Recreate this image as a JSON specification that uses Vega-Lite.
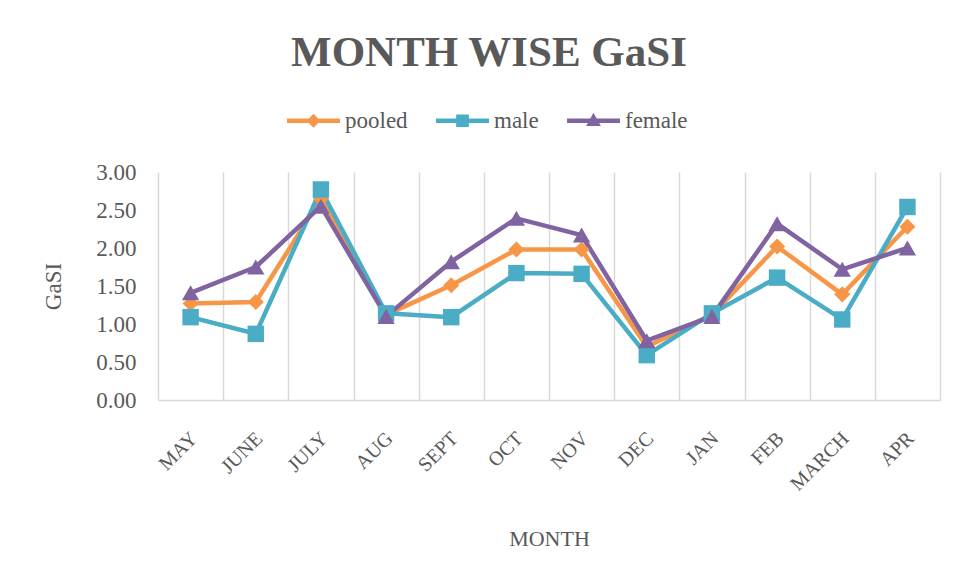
{
  "$schema": "https://vega.github.io/schema/vega-lite/v6.json",
  "autosize": {"type": "none"},
  "width": 782,
  "height": 228,
  "padding": {"left": 158, "top": 172, "right": 18, "bottom": 181},
  "background": "white",
  "title": {
    "text": "MONTH WISE GaSI",
    "anchor": "middle",
    "frame": "group",
    "dx": -60,
    "offset": 19,
    "font": "Liberation Serif",
    "fontSize": 43,
    "fontWeight": "bold",
    "color": "#595959"
  },
  "config": {
    "view": {"stroke": null},
    "font": "Liberation Serif"
  },
  "data": {
    "values": [
      {"month": "MAY", "series": "pooled", "value": 1.27},
      {"month": "MAY", "series": "male", "value": 1.09},
      {"month": "MAY", "series": "female", "value": 1.41},
      {"month": "JUNE", "series": "pooled", "value": 1.29},
      {"month": "JUNE", "series": "male", "value": 0.87},
      {"month": "JUNE", "series": "female", "value": 1.75},
      {"month": "JULY", "series": "pooled", "value": 2.65},
      {"month": "JULY", "series": "male", "value": 2.77},
      {"month": "JULY", "series": "female", "value": 2.55},
      {"month": "AUG", "series": "pooled", "value": 1.12},
      {"month": "AUG", "series": "male", "value": 1.14},
      {"month": "AUG", "series": "female", "value": 1.10},
      {"month": "SEPT", "series": "pooled", "value": 1.51},
      {"month": "SEPT", "series": "male", "value": 1.09},
      {"month": "SEPT", "series": "female", "value": 1.82},
      {"month": "OCT", "series": "pooled", "value": 1.98},
      {"month": "OCT", "series": "male", "value": 1.67},
      {"month": "OCT", "series": "female", "value": 2.39},
      {"month": "NOV", "series": "pooled", "value": 1.98},
      {"month": "NOV", "series": "male", "value": 1.66},
      {"month": "NOV", "series": "female", "value": 2.17},
      {"month": "DEC", "series": "pooled", "value": 0.70},
      {"month": "DEC", "series": "male", "value": 0.59},
      {"month": "DEC", "series": "female", "value": 0.78},
      {"month": "JAN", "series": "pooled", "value": 1.12},
      {"month": "JAN", "series": "male", "value": 1.14},
      {"month": "JAN", "series": "female", "value": 1.10},
      {"month": "FEB", "series": "pooled", "value": 2.02},
      {"month": "FEB", "series": "male", "value": 1.61},
      {"month": "FEB", "series": "female", "value": 2.32},
      {"month": "MARCH", "series": "pooled", "value": 1.39},
      {"month": "MARCH", "series": "male", "value": 1.06},
      {"month": "MARCH", "series": "female", "value": 1.72},
      {"month": "APR", "series": "pooled", "value": 2.28},
      {"month": "APR", "series": "male", "value": 2.54},
      {"month": "APR", "series": "female", "value": 2.00}
    ]
  },
  "encoding": {
    "x": {
      "field": "month",
      "type": "nominal",
      "sort": ["MAY", "JUNE", "JULY", "AUG", "SEPT", "OCT", "NOV", "DEC", "JAN", "FEB", "MARCH", "APR"],
      "scale": {"paddingInner": 0, "paddingOuter": 0},
      "title": "MONTH",
      "axis": {
        "grid": true,
        "gridColor": "#D9D9D9",
        "gridWidth": 1.5,
        "tickBand": "extent",
        "ticks": false,
        "domainColor": "#D9D9D9",
        "domainWidth": 1.5,
        "labelAngle": -45,
        "labelAlign": "right",
        "labelBaseline": "top",
        "labelFont": "Liberation Serif",
        "labelFontSize": 20,
        "labelColor": "#595959",
        "labelPadding": 28,
        "labelOffset": -4,
        "labelFlush": false,
        "labelOverlap": false,
        "titleFont": "Liberation Serif",
        "titleFontSize": 22,
        "titleFontWeight": "normal",
        "titleColor": "#595959",
        "titlePadding": 34
      }
    },
    "y": {
      "field": "value",
      "type": "quantitative",
      "scale": {"domain": [0, 3], "nice": false},
      "title": "GaSI",
      "axis": {
        "values": [0, 0.5, 1, 1.5, 2, 2.5, 3],
        "format": ".2f",
        "grid": false,
        "domain": false,
        "ticks": false,
        "labelFont": "Liberation Serif",
        "labelFontSize": 23,
        "labelColor": "#595959",
        "labelPadding": 22,
        "titleFont": "Liberation Serif",
        "titleFontSize": 23,
        "titleFontWeight": "normal",
        "titleColor": "#595959",
        "titlePadding": 30
      }
    },
    "color": {
      "field": "series",
      "type": "nominal",
      "scale": {"domain": ["pooled", "male", "female"], "range": ["#F79646", "#4BACC6", "#8064A2"]},
      "legend": null
    }
  },
  "layer": [
    {
      "mark": {"type": "line", "strokeWidth": 4.5, "strokeJoin": "round"},
      "encoding": {
        "color": {
          "field": "series",
          "type": "nominal",
          "scale": {"domain": ["pooled", "male", "female"], "range": ["#F79646", "#4BACC6", "#8064A2"]},
          "legend": {
            "title": null,
            "orient": "none",
            "direction": "horizontal",
            "legendX": 129,
            "legendY": -78,
            "symbolSize": 2800,
            "symbolType": "M-1,-0.085H1V0.085H-1Z",
            "labelFont": "Liberation Serif",
            "labelFontSize": 23,
            "labelColor": "#595959",
            "labelOffset": 5,
            "columnPadding": 28,
            "symbolStrokeWidth": 0,
            "encode": {
              "symbols": {
                "update": {
                  "shape": {"signal": "datum.value == 'pooled' ? 'M-1,-0.085H-0.175L0,-0.26L0.175,-0.085H1V0.085H0.175L0,0.26L-0.175,0.085H-1Z' : datum.value == 'male' ? 'M-1,-0.085H-0.24V-0.24H0.24V-0.085H1V0.085H0.24V0.24H-0.24V0.085H-1Z' : 'M-1,-0.085H-0.12L0,-0.3L0.12,-0.085H1V0.085H0.216L0.28,0.2H-0.28L-0.216,0.085H-1Z'"},
                  "fill": {"scale": "color", "field": "value"},
                  "strokeWidth": {"value": 0},
                  "fillOpacity": {"value": 1}
                }
              }
            }
          }
        }
      }
    },
    {
      "transform": [{"filter": "datum.series == 'pooled'"}],
      "mark": {"type": "point", "filled": true, "opacity": 1, "shape": "diamond", "size": 260}
    },
    {
      "transform": [{"filter": "datum.series == 'male'"}],
      "mark": {"type": "point", "filled": true, "opacity": 1, "shape": "square", "size": 270}
    },
    {
      "transform": [{"filter": "datum.series == 'female'"}],
      "mark": {"type": "point", "filled": true, "opacity": 1, "shape": "triangle-up", "size": 300}
    }
  ]
}
